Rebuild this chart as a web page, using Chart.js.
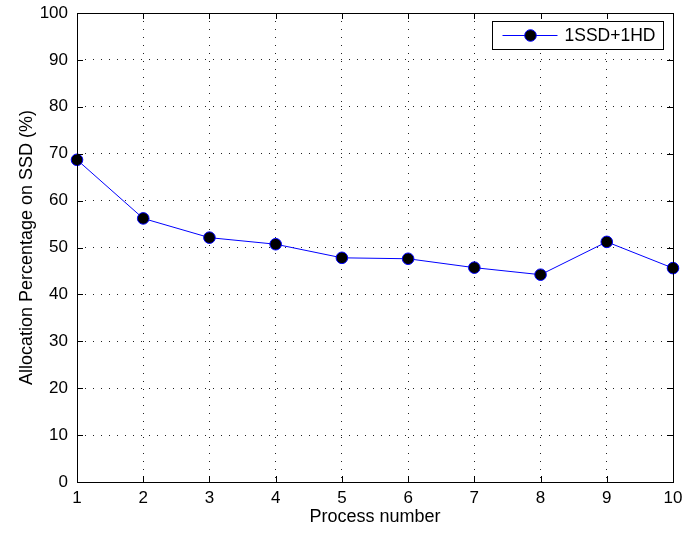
<!DOCTYPE html>
<html>
<head>
<meta charset="utf-8">
<script src="https://cdn.jsdelivr.net/npm/chart.js@4.4.1/dist/chart.umd.min.js"></script>
<style>
  html, body { margin: 0; padding: 0; background: #fff; }
</style>
</head>
<body>
<canvas id="chart" width="686" height="533"></canvas>
<script>
// values
const processNumbers = [1, 2, 3, 4, 5, 6, 7, 8, 9, 10];
const ssdShare = [68.7, 56.2, 52.1, 50.7, 47.8, 47.6, 45.7, 44.2, 51.2, 45.6];
const seriesLabel = "1SSD+1HD";
const xTitle = "Process number";
const yTitle = "Allocation Percentage on SSD (%)";

const FONT = "'Liberation Sans', Arial, sans-serif";

// matlab style box, inward ticks and legend
const matlabFrame = {
    id: "matlabFrame",
    afterDraw(chart) {
        const { ctx, chartArea: a, scales } = chart;
        const tickLen = 6;
        ctx.save();
        ctx.strokeStyle = "#000";
        ctx.lineWidth = 1;

        ctx.beginPath();
        scales.y.ticks.forEach(t => {
            const py = Math.round(scales.y.getPixelForValue(t.value)) + 0.5;
            ctx.moveTo(a.left, py); ctx.lineTo(a.left + tickLen, py);
            ctx.moveTo(a.right, py); ctx.lineTo(a.right - tickLen, py);
        });
        scales.x.ticks.forEach(t => {
            const px = Math.round(scales.x.getPixelForValue(t.value)) + 0.5;
            ctx.moveTo(px, a.bottom); ctx.lineTo(px, a.bottom - tickLen);
            ctx.moveTo(px, a.top); ctx.lineTo(px, a.top + tickLen);
        });
        ctx.stroke();

        ctx.strokeRect(Math.round(a.left) + 0.5, Math.round(a.top) + 0.5,
            Math.round(a.right - a.left), Math.round(a.bottom - a.top));

        // legend
        const ds = chart.data.datasets[0];
        ctx.font = "17.5px " + FONT;
        const textW = ctx.measureText(ds.label).width;
        const boxW = Math.round(80 + textW);
        const boxH = 28;
        const bx = Math.round(a.right - 10 - boxW) + 0.5;
        const by = Math.round(a.top + 8) + 0.5;
        ctx.fillStyle = "#fff";
        ctx.fillRect(bx, by, boxW, boxH);
        ctx.strokeStyle = "#000";
        ctx.strokeRect(bx, by, boxW, boxH);

        const cy = by + boxH / 2;
        ctx.strokeStyle = ds.borderColor;
        ctx.beginPath();
        ctx.moveTo(bx + 10, cy);
        ctx.lineTo(bx + 65, cy);
        ctx.stroke();
        ctx.beginPath();
        ctx.arc(bx + 38, cy, ds.pointRadius, 0, Math.PI * 2);
        ctx.fillStyle = ds.pointBackgroundColor;
        ctx.fill();
        ctx.strokeStyle = ds.pointBorderColor;
        ctx.stroke();

        ctx.fillStyle = "#000";
        ctx.textBaseline = "middle";
        ctx.textAlign = "left";
        ctx.fillText(ds.label, bx + 72, cy + 1);
        ctx.restore();
    }
};

new Chart(document.getElementById("chart"), {
    type: "line",
    data: {
        datasets: [{
            label: seriesLabel,
            data: processNumbers.map((p, i) => ({ x: p, y: ssdShare[i] })),
            borderColor: "#0000ff",
            borderWidth: 1,
            pointRadius: 5.8,
            pointBackgroundColor: "#000",
            pointBorderColor: "#0000ff",
            pointBorderWidth: 1,
            tension: 0,
            clip: false
        }]
    },
    options: {
        responsive: false,
        animation: false,
        devicePixelRatio: 1,
        layout: { padding: { left: 16, top: 13, right: 13, bottom: 5 } },
        plugins: {
            legend: { display: false },
            tooltip: { enabled: false }
        },
        scales: {
            x: {
                type: "linear",
                min: 1,
                max: 10,
                afterFit: s => { s.height = 46; s.paddingLeft = 0; s.paddingRight = 0; },
                ticks: { stepSize: 1, color: "#000", padding: 6, font: { family: FONT, size: 17 } },
                grid: { color: "#222", borderDash: [1, 7], drawTicks: false },
                border: { display: false, dash: [1, 7] },
                title: { display: true, text: xTitle, color: "#000", padding: 0, font: { family: FONT, size: 18 } }
            },
            y: {
                min: 0,
                max: 100,
                afterFit: s => { s.width = 61; s.paddingTop = 0; s.paddingBottom = 0; },
                ticks: { stepSize: 10, color: "#000", padding: 9, font: { family: FONT, size: 17 } },
                grid: { color: "#222", drawTicks: false },
                border: { display: false, dash: [1, 7] },
                title: { display: true, text: yTitle, color: "#000", padding: 0, font: { family: FONT, size: 18 } }
            }
        }
    },
    plugins: [matlabFrame]
});
</script>
</body>
</html>
